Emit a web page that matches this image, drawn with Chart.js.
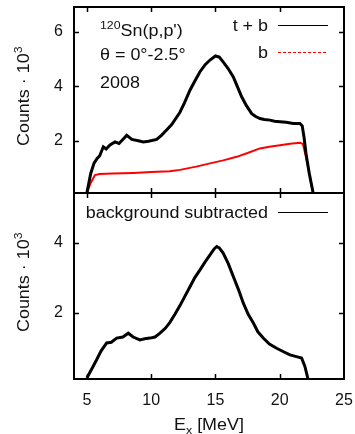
<!DOCTYPE html>
<html><head><meta charset="utf-8">
<script src="https://cdn.jsdelivr.net/npm/chart.js@4"></script>
<style>
html,body{margin:0;padding:0;background:#fff;}
#wrap{position:relative;width:355px;height:434px;}
canvas{position:absolute;left:0;top:0;}
</style></head>
<body><div id="wrap"><canvas id="c1" width="355" height="434"></canvas><canvas id="c2" width="355" height="434"></canvas></div>
<script>
// ---- data ----
const xTickValues = [5, 10, 15, 20, 25];
const yTicksTop = [2, 4, 6];
const yTicksBottom = [2, 4];

// top panel: total + background (t + b)
const eTB = [5.0,5.3,5.56,5.8,6.0,6.28,6.5,6.8,7.19,7.5,7.8,8.1,8.5,9.0,9.39,9.8,10.43,10.8,11.2,11.6,12.24,12.6,13.02,13.4,13.8,14.2,14.58,15.0,15.3,15.6,16.0,16.39,16.7,17.04,17.4,17.82,18.1,18.46,18.8,19.24,19.6,20.02,20.5,21.05,21.57,21.75,21.9,22.04,22.3,22.6];
const cTB = [0.08,0.8,1.18,1.35,1.45,1.78,1.7,1.85,1.96,1.9,2.05,2.2,2.05,2.0,1.96,1.98,2.05,2.2,2.4,2.6,3.05,3.4,3.86,4.2,4.54,4.8,4.97,5.12,5.08,4.9,4.65,4.35,4.0,3.62,3.3,3.0,2.9,2.82,2.78,2.76,2.72,2.7,2.68,2.64,2.64,2.55,2.1,1.54,0.8,0.08];

// top panel: background (b)
const eB = [5.0,5.3,5.63,6.0,7.0,8.6,10.0,11.46,12.24,13.5,14.58,15.6,16.65,17.5,18.46,19.2,20.02,20.8,21.57,21.8,22.0,22.3,22.6];
const cB = [0.08,0.45,0.74,0.78,0.8,0.82,0.85,0.88,0.93,1.05,1.17,1.28,1.41,1.55,1.72,1.78,1.84,1.89,1.93,1.88,1.5,0.8,0.08];

// bottom panel: background subtracted
const eSub = [5.0,5.4,5.76,6.1,6.54,6.9,7.32,7.8,8.22,8.6,9.13,9.5,9.91,10.3,10.69,11.1,11.46,11.85,12.24,12.6,13.02,13.4,13.8,14.2,14.58,14.9,15.1,15.3,15.6,16.0,16.39,16.8,17.17,17.55,17.95,18.3,18.72,19.2,19.76,20.3,20.8,21.3,21.7,21.96,22.2];
const cSub = [0.13,0.4,0.65,0.9,1.13,1.15,1.27,1.3,1.41,1.3,1.22,1.25,1.27,1.3,1.41,1.55,1.72,1.95,2.2,2.45,2.74,3.0,3.22,3.45,3.65,3.82,3.89,3.85,3.7,3.4,3.03,2.65,2.27,1.95,1.7,1.45,1.27,1.1,0.98,0.88,0.79,0.74,0.7,0.46,0.1];

const labelTB = 't + b';
const labelB = 'b';
const labelSub = 'background subtracted';

// ---- helpers ----
const FONT = '"Liberation Sans", Arial, Helvetica, sans-serif';
const SX = 1.12;
const pts = (xs, ys) => xs.map((x, i) => ({x: x, y: ys[i]}));

function richText(ctx, parts, x, y, align, rot) {
  let w = 0;
  for (const p of parts) { ctx.font = p[1] + 'px ' + FONT; w += ctx.measureText(p[0]).width; }
  ctx.save();
  ctx.translate(x, y);
  if (rot) ctx.rotate(rot);
  ctx.scale(SX, 1);
  ctx.fillStyle = '#111';
  ctx.textBaseline = 'alphabetic';
  ctx.textAlign = 'left';
  let cx = align === 'right' ? -w : (align === 'center' ? -w / 2 : 0);
  for (const p of parts) {
    ctx.font = p[1] + 'px ' + FONT;
    ctx.fillText(p[0], cx, p[2] || 0);
    cx += ctx.measureText(p[0]).width;
  }
  ctx.restore();
  return w * SX;
}

const noPad = s => { s.paddingTop = 0; s.paddingBottom = 0; s.paddingLeft = 0; s.paddingRight = 0; };

const framePlugin = {
  id: 'frame',
  afterDatasetsDraw(chart, args, o) {
    const {ctx, chartArea: a, scales} = chart;
    ctx.save();
    ctx.strokeStyle = '#000';
    ctx.lineWidth = 1.5;
    ctx.beginPath();
    for (const v of o.xTicks) {
      const px = Math.round(scales.x.getPixelForValue(v)) + 0.5;
      if (px <= a.left + 2 || px >= a.right - 2) continue;
      ctx.moveTo(px, a.bottom); ctx.lineTo(px, a.bottom - 5);
      ctx.moveTo(px, a.top); ctx.lineTo(px, a.top + 5);
    }
    for (const v of o.yTicks) {
      const py = Math.round(scales.y.getPixelForValue(v)) + 0.5;
      ctx.moveTo(a.left, py); ctx.lineTo(a.left + 5, py);
      ctx.moveTo(a.right, py); ctx.lineTo(a.right - 5, py);
    }
    ctx.stroke();
    ctx.lineWidth = 2;
    ctx.strokeRect(a.left, a.top, a.right - a.left, a.bottom - a.top);
    // y title
    richText(ctx, [['Counts \u00b7 10', 16], ['3', 11, -7]], 29, (a.top + a.bottom) / 2 + 46, 'left', -Math.PI / 2);
    // legend
    chart.data.datasets.forEach((ds, i) => {
      const y = o.legendY[i];
      richText(ctx, [[ds.label, 16]], 268, y + 6, 'right');
      ctx.save();
      ctx.strokeStyle = ds.borderColor;
      ctx.lineWidth = 1;
      if (ds.legendDash) ctx.setLineDash(ds.legendDash);
      ctx.beginPath(); ctx.moveTo(278, y + 0.5); ctx.lineTo(328, y + 0.5); ctx.stroke();
      ctx.restore();
    });
    if (o.notes) {
      richText(ctx, [['120', 11, -7], ['Sn(p,p\')', 16]], 100, 36, 'left');
      richText(ctx, [['\u03b8 = 0\u00b0-2.5\u00b0', 16]], 100, 60, 'left');
      richText(ctx, [['2008', 16]], 100, 87.5, 'left');
    }
    if (o.xTitle) {
      richText(ctx, [['E', 16], ['x', 11, 4], [' [MeV]', 16]], (a.left + a.right) / 2, 430, 'center');
    }
    ctx.restore();
  }
};

const common = (yMin, yMax, yTicks, xLabels, xHeight) => ({
  responsive: false,
  devicePixelRatio: 1,
  animation: false,
  events: [],
  plugins: {legend: {display: false}, tooltip: {enabled: false}},
  elements: {point: {radius: 0}, line: {tension: 0}},
  scales: {
    x: {
      type: 'linear', min: 4, max: 25,
      afterBuildTicks: s => { s.ticks = xTickValues.map(v => ({value: v})); },
      afterFit: s => { s.height = xHeight; noPad(s); },
      grid: {display: false, drawTicks: false},
      border: {display: false},
      ticks: {display: xLabels, padding: 12, color: '#111', font: {family: FONT, size: 16}}
    },
    y: {
      type: 'linear', min: yMin, max: yMax,
      afterBuildTicks: s => { s.ticks = yTicks.map(v => ({value: v})); },
      afterFit: s => { s.width = 74; noPad(s); },
      grid: {display: false, drawTicks: false},
      border: {display: false},
      ticks: {padding: 11, color: '#111', font: {family: FONT, size: 16}}
    }
  }
});

const opt1 = common(0.08, 6.92, yTicksTop, false, 434 - 193);
opt1.layout = {padding: {left: 0, right: 11, top: 7, bottom: 0}};
opt1.plugins.frame = {xTicks: xTickValues, yTicks: yTicksTop, legendY: [25, 52], notes: true};

new Chart(document.getElementById('c1'), {
  type: 'line',
  data: {datasets: [
    {label: labelTB, data: pts(eTB, cTB), borderColor: '#000000', borderWidth: 3, order: 1},
    {label: labelB, data: pts(eB, cB), borderColor: '#ff0000', borderWidth: 2, legendDash: [3, 2], order: 2}
  ]},
  options: opt1,
  plugins: [framePlugin]
});

const opt2 = common(0.1, 5.42, yTicksBottom, true, 434 - 379);
opt2.layout = {padding: {left: 0, right: 11, top: 193, bottom: 0}};
opt2.plugins.frame = {xTicks: xTickValues, yTicks: yTicksBottom, legendY: [212], xTitle: true};

new Chart(document.getElementById('c2'), {
  type: 'line',
  data: {datasets: [
    {label: labelSub, data: pts(eSub, cSub), borderColor: '#000000', borderWidth: 3}
  ]},
  options: opt2,
  plugins: [framePlugin]
});
</script></body></html>
